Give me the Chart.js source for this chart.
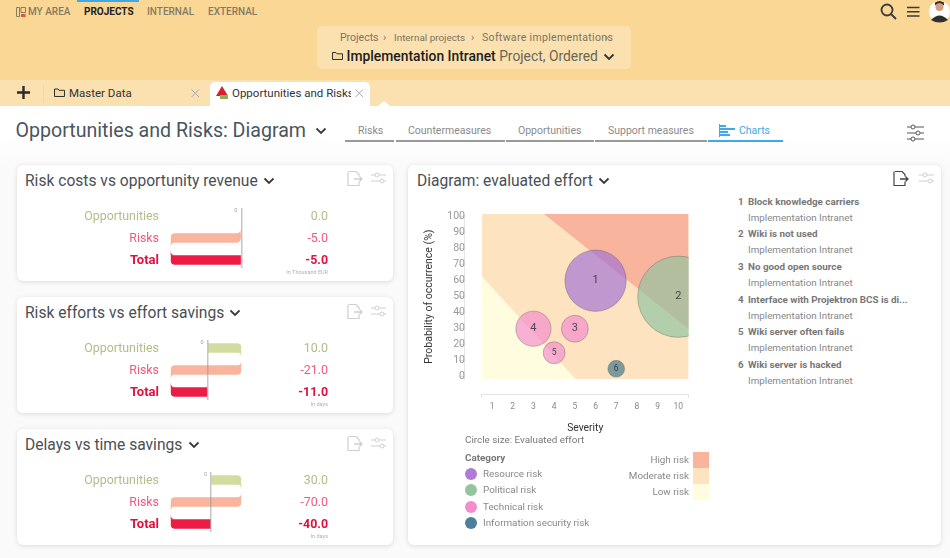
<!DOCTYPE html>
<html>
<head>
<meta charset="utf-8">
<title>Opportunities and Risks: Diagram</title>
<script src="https://cdn.jsdelivr.net/npm/chart.js@4"></script>
<style>
html, body { margin: 0; padding: 0; width: 950px; height: 558px; overflow: hidden; background: #fafafa; font-family: Roboto, sans-serif; }
.abs, .t { position: absolute; }
.t { white-space: nowrap; line-height: 1; }
.card { position: absolute; background: #fff; border-radius: 6px; box-shadow: 0 1px 5px rgba(0,0,0,.13); }
.chart { position: absolute; }
svg { position: absolute; overflow: visible; }
</style>
</head>
<body>
<div class="abs" style="left:0;top:0;width:950px;height:80px;background:#fad795"></div>
<div class="abs" style="left:0;top:80px;width:950px;height:26px;background:#fbe1b0"></div>
<div class="abs" style="left:0;top:106px;width:950px;height:60px;background:linear-gradient(#fff 30px,#fafafa)"></div>
<div class="abs" style="left:77px;top:0;width:62px;height:2px;background:#3fa9e8"></div>
<div class="abs" style="left:317px;top:26px;width:314px;height:43px;background:#fbe1b0;border-radius:5px"></div>
<div class="abs" style="left:43px;top:84px;width:1px;height:18px;background:#fad795"></div>
<div class="abs" style="left:210px;top:82px;width:160px;height:26px;background:#fff;border-radius:5px 5px 0 0"></div>
<svg style="left:378px;top:101px" width="12" height="5"><path d="M0 5l6-5 6 5z" fill="#fff"/></svg>

<svg style="left:16px;top:7px" width="10" height="11"><path d="M.5.5h3v9h-3zM5 .5h4.5v5h-4.500z" fill="none" stroke="#8a7a60"/><rect x="5" y="7" width="4.5" height="3" fill="#d65a3c"/></svg>
<div class="t" style="left:28px;top:7px;font-size:10px;font-weight:500;color:#857a62">MY AREA</div>
<div class="t" style="left:84px;top:7px;font-size:10px;font-weight:700;color:#222">PROJECTS</div>
<div class="t" style="left:147px;top:7px;font-size:10px;font-weight:500;color:#857a62">INTERNAL</div>
<div class="t" style="left:208px;top:7px;font-size:10px;font-weight:500;color:#857a62">EXTERNAL</div>

<div class="t" style="left:340px;top:33px;font-size:10.5px;color:#7d725e">Projects</div>
<div class="t" style="left:383px;top:33px;font-size:10.5px;color:#7d725e">›</div>
<div class="t" style="left:394px;top:33px;font-size:9.9px;color:#7d725e">Internal projects</div>
<div class="t" style="left:471px;top:33px;font-size:10.5px;color:#7d725e">›</div>
<div class="t" style="left:482px;top:33px;font-size:10.5px;letter-spacing:.33px;color:#7d725e">Software implementations</div>
<div class="t" style="left:605px;top:33px;font-size:10.5px;color:#7d725e">›</div>
<div class="t" style="left:346.5px;top:50px;font-size:13.85px;font-weight:500;color:#1c1c1c">Implementation Intranet <span style="font-weight:400;color:#6b6557">Project, Ordered</span></div>
<svg style="left:332px;top:51px" width="11" height="9"><path d="M.5 1.5h3.5l1 1.3h5.5v5.7h-10z" fill="#f4d9a6" stroke="#333"/></svg>
<svg style="left:603px;top:53px" width="12" height="8"><path d="M1.5 1.5l4.5 4.5 4.5-4.500" fill="none" stroke="#333" stroke-width="1.8"/></svg>

<svg style="left:880px;top:3px" width="18" height="18"><circle cx="7" cy="7" r="5.5" fill="none" stroke="#3a3a3a" stroke-width="1.8"/><path d="M11 11l5 5" stroke="#3a3a3a" stroke-width="2"/></svg>
<svg style="left:907px;top:6px" width="13" height="12"><path d="M0 1.5h12.5M0 5.7h12.5M0 10h12.5" stroke="#3a3a3a" stroke-width="1.5"/></svg>
<svg style="left:929px;top:0" width="21" height="23"><circle cx="10.5" cy="11.5" r="10.5" fill="#fff"/><circle cx="10.5" cy="7" r="4" fill="#d3a07e"/><path d="M6 5.5q4.5-5 9 0v-3q-4.500-3-9 0z" fill="#3a2f28"/><path d="M2 20q8.5-9 17 0q-8.500 5-17 0z" fill="#2f2f2f"/></svg>

<svg style="left:17px;top:86px" width="13" height="13"><path d="M6.5 0v13M0 6.5h13" stroke="#2a2a2a" stroke-width="2.4"/></svg>
<svg style="left:54px;top:88px" width="11" height="9"><path d="M.5 1h3.5l1 1.3h5.5v6.200h-10z" fill="#f4d9a6" stroke="#333"/></svg>
<div class="t" style="left:69px;top:88px;font-size:11.5px;color:#333">Master Data</div>
<svg style="left:191px;top:89px" width="9" height="9"><path d="M.5.5l7.5 7.5M8 .5l-7.500 7.500" stroke="#aaa" stroke-width="1"/></svg>
<svg style="left:216px;top:86px" width="13" height="13"><path d="M6 0l6 10h-12z" fill="#d6202e"/><rect x="4" y="9" width="8" height="4" fill="#8cae5f"/></svg>
<div class="t" style="left:232px;top:88px;font-size:11.5px;color:#333;width:119px;overflow:hidden">Opportunities and Risks</div>
<svg style="left:355px;top:89px" width="9" height="9"><path d="M.5.5l7.5 7.5M8 .5l-7.500 7.500" stroke="#aaa" stroke-width="1"/></svg>

<div class="t" style="left:15.5px;top:121px;font-size:19.6px;color:#4a5560">Opportunities and Risks: Diagram</div>
<svg style="left:315px;top:127px" width="12" height="8"><path d="M1.5 1.5l4.5 4.5 4.5-4.500" fill="none" stroke="#3a3a3a" stroke-width="1.8"/></svg>
<div class="t" style="left:358px;top:126px;font-size:10.5px;color:#8a8a8a">Risks</div>
<div class="t" style="left:408px;top:126px;font-size:10.5px;color:#8a8a8a">Countermeasures</div>
<div class="t" style="left:518px;top:126px;font-size:10.5px;color:#8a8a8a">Opportunities</div>
<div class="t" style="left:608px;top:126px;font-size:10.5px;color:#8a8a8a">Support measures</div>
<div class="t" style="left:739px;top:126px;font-size:10.5px;color:#3fa9e8">Charts</div>
<svg style="left:719px;top:124px" width="16" height="13"><path d="M.5 0v13" stroke="#3fa9e8"/><path d="M1 2h6M1 5h15M1 8h8M1 11h10" stroke="#3fa9e8" stroke-width="2"/></svg>
<div class="abs" style="left:345px;top:140px;width:49px;height:2px;background:#999"></div>
<div class="abs" style="left:396px;top:140px;width:109px;height:2px;background:#999"></div>
<div class="abs" style="left:506px;top:140px;width:88px;height:2px;background:#999"></div>
<div class="abs" style="left:595px;top:140px;width:112px;height:2px;background:#999"></div>
<div class="abs" style="left:708px;top:140px;width:75px;height:2px;background:#3fa9e8"></div>
<svg style="left:907px;top:124px" width="17" height="17"><g fill="none" stroke="#555"><path d="M0 3h4M8 3h9M0 9h9M13 9h4M0 15h4M8 15h9"/><circle cx="6" cy="3" r="2"/><circle cx="11" cy="9" r="2"/><circle cx="6" cy="15" r="2"/></g></svg>

<div class="card" style="left:17px;top:165px;width:376px;height:116px"></div>
<div class="card" style="left:17px;top:297px;width:376px;height:116px"></div>
<div class="card" style="left:17px;top:429px;width:376px;height:116px"></div>
<div class="card" style="left:408px;top:165px;width:533px;height:380px"></div>

<div class="t" style="left:25px;top:174px;font-size:15.6px;color:#4a4f55">Risk costs vs opportunity revenue</div>
<svg style="left:263px;top:177px" width="12" height="8"><path d="M1.5 1.5l4.5 4.5 4.5-4.500" fill="none" stroke="#3a3a3a" stroke-width="1.8"/></svg>
<div class="t" style="left:25px;top:306px;font-size:15.6px;color:#4a4f55">Risk efforts vs effort savings</div>
<svg style="left:229px;top:309px" width="12" height="8"><path d="M1.5 1.5l4.5 4.5 4.5-4.500" fill="none" stroke="#3a3a3a" stroke-width="1.8"/></svg>
<div class="t" style="left:25px;top:438px;font-size:15.6px;color:#4a4f55">Delays vs time savings</div>
<svg style="left:188px;top:441px" width="12" height="8"><path d="M1.5 1.5l4.5 4.5 4.5-4.500" fill="none" stroke="#3a3a3a" stroke-width="1.8"/></svg>
<div class="t" style="left:417px;top:174px;font-size:15.6px;color:#4a4f55">Diagram: evaluated effort</div>
<svg style="left:598px;top:177px" width="12" height="8"><path d="M1.5 1.5l4.5 4.5 4.5-4.500" fill="none" stroke="#3a3a3a" stroke-width="1.8"/></svg>

<div id="cardIcons"></div>

<canvas class="chart" id="waterfall0" style="left:17px;top:203px;width:376px;height:78px"></canvas>
<canvas class="chart" id="waterfall1" style="left:17px;top:335px;width:376px;height:78px"></canvas>
<canvas class="chart" id="waterfall2" style="left:17px;top:467px;width:376px;height:78px"></canvas>
<canvas class="chart" id="bubbleChart" style="left:410px;top:200px;width:300px;height:240px"></canvas>

<div class="t" style="left:465px;top:434.5px;font-size:9.85px;color:#777">Circle size: Evaluated effort</div>
<div class="t" style="left:465px;top:452.5px;font-size:9.85px;font-weight:700;color:#777">Category</div>
<div id="catLegend"></div>
<div id="zoneLegend"></div>
<div id="riskList"></div>

<script>
const rowLabels = ["Opportunities", "Risks", "Total"];
const costValues = [0.0, -5.0, -5.0];
const effortValues = [10.0, -21.0, -11.0];
const delayValues = [30.0, -70.0, -40.0];
const unitLabels = ["In Thousand EUR", "In days", "In days"];

const severity = [6, 10, 5, 3, 4, 7];
const probability = [60, 50, 30, 30, 15, 5];
const evaluatedEffort = [94, 165, 18, 31, 12, 7];
const riskCategory = [0, 1, 2, 2, 2, 3];
const riskNames = ["Block knowledge carriers", "Wiki is not used", "No good open source", "Interface with Projektron BCS is di...", "Wiki server often fails", "Wiki server is hacked"];
const projectName = "Implementation Intranet";

const categoryNames = ["Resource risk", "Political risk", "Technical risk", "Information security risk"];
const categoryColors = ["#ae7bd8", "#94c4a0", "#f58ccb", "#4c7f9a"];
const zoneNames = ["High risk", "Moderate risk", "Low risk"];
const zoneColors = ["#f8b49c", "#fde3c0", "#fffce0"];
const highZone = [{x: 3.51, y: 101.7}, {x: 10.5, y: 29.8}];
const moderateZone = [{x: 0.5, y: 101.7}, {x: 10.5, y: 101.7}];
const lowZone = [{x: 0.5, y: 63}, {x: 5.05, y: -1.6}];
const severityTicks = [0.5, 1, 2, 3, 4, 5, 6, 7, 8, 9, 10, 10.5];
const probabilityTicks = [0, 10, 20, 30, 40, 50, 60, 70, 80, 90, 100];

const FONT = "Roboto, sans-serif";
Chart.defaults.font.family = FONT;
Chart.defaults.animation = false;
Chart.defaults.plugins.legend.display = false;
Chart.defaults.plugins.tooltip.enabled = false;

// card icons, same on every card
const exportIcon = (x, y, c) => `<svg style="left:${x}px;top:${y}px" width="16" height="15"><path d="M2 .5h7l3 3v2M12 10.5v4h-11v-14" fill="none" stroke="${c}" stroke-width="1.2"/><path d="M7 8h8M12.5 5.5l2.5 2.5-2.5 2.5" fill="none" stroke="${c}" stroke-width="1.3"/></svg>`;
const slidersIcon = (x, y, c) => `<svg style="left:${x}px;top:${y}px" width="15" height="13"><g fill="none" stroke="${c}"><path d="M0 3h4M8 3h7M0 9h9M13 9h2"/><circle cx="6" cy="3" r="2"/><circle cx="11" cy="9" r="2"/></g></svg>`;
document.getElementById("cardIcons").innerHTML = [171, 304, 436].map((y) => exportIcon(347, y, "#cfcfcf") + slidersIcon(371, y + 1, "#cfcfcf")).join("") + exportIcon(893, 171, "#444") + slidersIcon(919, 172, "#cfcfcf");

// waterfall: each row floats from the running total, the total row closes back on zero
function waterfallRanges(values) {
    const opening = values[0];
    const closing = values[2];
    return [[0, opening], [closing, opening], [closing, 0]].map((x, y) => ({ x, y }));
}

const rowColors = ["#d3dc9f", "#f8b49c", "#ec1c45"];
const rowText = ["#b5bb8a", "#ee5b7c", "#e0103f"];

// small curved hook at a bar end, the look of the original connector
function drawHook(ctx, x, y, dirX, dirY, color) {
    ctx.fillStyle = color;
    ctx.beginPath();
    ctx.moveTo(x, y);
    ctx.lineTo(x, y + dirY * 5);
    ctx.quadraticCurveTo(x, y, x + dirX * 5, y);
    ctx.closePath();
    ctx.fill();
}

const waterfallLabels = {
    id: "waterfallLabels",
    afterDatasetsDraw(chart) {
        const { ctx } = chart;
        const [top, mid, total] = chart.getDatasetMeta(0).data;
        const half = 4.5;
        ctx.save();
        if (Math.abs(top.x - top.base) > 1) drawHook(ctx, Math.max(top.x, top.base), top.y + half, -1, 1, rowColors[0]);
        drawHook(ctx, Math.max(mid.x, mid.base), mid.y - half, -1, -1, rowColors[1]);
        drawHook(ctx, Math.min(mid.x, mid.base), mid.y + half, 1, 1, rowColors[1]);
        drawHook(ctx, Math.min(total.x, total.base), total.y - half, 1, -1, rowColors[2]);
        ctx.restore();
    },
    afterDraw(chart, args, opts) {
        const { ctx } = chart;
        const bars = chart.getDatasetMeta(0).data;
        ctx.save();
        ctx.textBaseline = "middle";
        bars.forEach((bar, i) => {
            const bold = i === 2;
            ctx.fillStyle = rowText[i];
            ctx.textAlign = "right";
            ctx.font = (bold ? "700 13px " : "12.4px ") + FONT;
            ctx.fillText(rowLabels[i], 142, bar.y + 1);
            ctx.font = (bold ? "700 12.4px " : "12.4px ") + FONT;
            ctx.fillText(opts.values[i].toFixed(1), 311, bar.y + 1);
        });
        ctx.fillStyle = "#b0b0b0";
        ctx.font = "5.5px " + FONT;
        ctx.fillText(opts.unit, 311, 69.5);
        ctx.fillStyle = "#a0a0a0";
        ctx.fillText("0", chart.scales.x.getPixelForValue(0) - 4, 8);
        ctx.restore();
    },
};

function makeWaterfall(id, values, unit, spread) {
    new Chart(document.getElementById(id), {
        type: "bar",
        plugins: [waterfallLabels],
        data: {
            datasets: [{
                data: waterfallRanges(values),
                backgroundColor: rowColors,
                borderSkipped: false,
                borderRadius: [
                    { topLeft: 0, topRight: 5, bottomLeft: 0, bottomRight: 0 },
                    { topLeft: 5, topRight: 0, bottomLeft: 0, bottomRight: 5 },
                    { topLeft: 0, topRight: 0, bottomLeft: 5, bottomRight: 0 },
                ],
                barThickness: 9,
            }],
        },
        options: {
            indexAxis: "y",
            responsive: false,
            maintainAspectRatio: false,
            layout: { autoPadding: false, padding: { left: 153.7, right: 151.7, top: 5, bottom: 13 } },
            plugins: { waterfallLabels: { values, unit } },
            scales: {
                y: { type: "linear", display: false, reverse: true, offset: false, min: -0.364, max: 2.364 },
                x: {
                    min: spread[0],
                    max: spread[1],
                    afterBuildTicks: (scale) => { scale.ticks = [{ value: 0 }]; },
                    border: { display: false },
                    grid: { color: "rgba(150,150,150,.55)", drawTicks: false, lineWidth: 1.5, z: 1 },
                    ticks: { display: false },
                },
            },
        },
    });
}

makeWaterfall("waterfall0", costValues, unitLabels[0], [-5, 0]);
makeWaterfall("waterfall1", effortValues, unitLabels[1], [-11, 10]);
makeWaterfall("waterfall2", delayValues, unitLabels[2], [-40, 30]);

// numbers inside the bubbles, and the y title: a title on a free-floating axis only reads downwards
const bubbleNumbers = {
    id: "bubbleNumbers",
    afterDatasetsDraw(chart) {
        const { ctx } = chart;
        const meta = chart.getDatasetMeta(0);
        ctx.save();
        ctx.textAlign = "center";
        ctx.textBaseline = "middle";
        ctx.fillStyle = "rgba(40,40,60,.8)";
        meta.data.forEach((pt, i) => {
            ctx.font = (i > 3 ? "8.5px " : "11px ") + FONT;
            ctx.fillText(String(i + 1), pt.x, pt.y);
        });
        ctx.restore();
    },
    afterDraw(chart) {
        const { ctx, scales } = chart;
        ctx.save();
        ctx.translate(19, (scales.y.top + scales.y.bottom) / 2);
        ctx.rotate(-Math.PI / 2);
        ctx.textAlign = "center";
        ctx.textBaseline = "middle";
        ctx.fillStyle = "#333";
        ctx.font = "10.5px " + FONT;
        ctx.fillText("Probability of occurrence (%)", 0, 0);
        ctx.restore();
    },
};

const bubbleFill = ["rgba(160,110,215,.65)", "rgba(140,195,160,.65)", "rgba(245,135,205,.65)", "rgba(55,115,140,.65)"];

new Chart(document.getElementById("bubbleChart"), {
    data: {
        datasets: [
            {
                type: "bubble",
                order: 0,
                data: severity.map((s, i) => ({ x: s, y: probability[i], r: Math.sqrt(evaluatedEffort[i] * 10) })),
                backgroundColor: riskCategory.map((c) => bubbleFill[c]),
                borderColor: "rgba(90,90,90,.35)",
                borderWidth: 1,
            },
            { type: "scatter", order: 1, data: highZone, showLine: true, fill: "end", backgroundColor: zoneColors[0], borderWidth: 0, pointRadius: 0 },
            { type: "scatter", order: 2, data: lowZone, showLine: true, fill: "start", backgroundColor: zoneColors[2], borderWidth: 0, pointRadius: 0 },
            { type: "scatter", order: 3, data: moderateZone, showLine: true, fill: "start", backgroundColor: zoneColors[1], borderWidth: 0, pointRadius: 0 },
        ],
    },
    plugins: [bubbleNumbers],
    options: {
        responsive: false,
        maintainAspectRatio: false,
        layout: { autoPadding: false, padding: { left: 71.7, right: 21.3, top: 14, bottom: 60.7 } },
        scales: {
            x: {
                type: "linear",
                min: 0.5,
                max: 10.5,
                position: { y: -11 },
                afterBuildTicks: (scale) => { scale.ticks = severityTicks.map((value) => ({ value })); },
                border: { display: true, color: "#e4e4e4" },
                grid: {
                    drawOnChartArea: false,
                    tickLength: 3,
                    color: (ctx) => (ctx.tick && Number.isInteger(ctx.tick.value) ? "rgba(0,0,0,0)" : "#e4e4e4"),
                },
                ticks: {
                    color: "#888",
                    font: { size: 8.5 },
                    padding: 4,
                    autoSkip: false,
                    maxRotation: 0,
                    callback: (value) => (Number.isInteger(value) ? value : ""),
                },
                title: { display: true, text: "Severity", color: "#333", font: { size: 10.3 }, padding: { top: 7 } },
            },
            y: {
                min: -1.6,
                max: 101.7,
                position: { x: -0.307 },
                afterBuildTicks: (scale) => { scale.ticks = probabilityTicks.map((value) => ({ value })); },
                border: { display: true, color: "#e4e4e4" },
                grid: { drawOnChartArea: false, tickLength: 5, color: "#e4e4e4" },
                ticks: { color: "#999", font: { size: 10.5 }, padding: 2, autoSkip: false },
            },
        },
    },
});

document.getElementById("catLegend").innerHTML = categoryNames.map((name, i) =>
    `<div class="abs" style="left:465px;top:${468 + i * 16.3}px;width:12px;height:12px;border-radius:50%;background:${categoryColors[i]}"></div>` +
    `<div class="t" style="left:483px;top:${469 + i * 16.3}px;font-size:9.85px;color:#888">${name}</div>`).join("");

document.getElementById("zoneLegend").innerHTML = zoneNames.map((name, i) =>
    `<div class="abs" style="left:693px;top:${452 + i * 16}px;width:16px;height:16px;background:${zoneColors[i]}"></div>` +
    `<div class="t" style="right:261px;top:${454.5 + i * 16.3}px;font-size:9.85px;color:#888">${name}</div>`).join("");

document.getElementById("riskList").innerHTML = riskNames.map((name, i) =>
    `<div class="t" style="left:738px;top:${196.6 + i * 32.7}px;font-size:9.8px;font-weight:700;color:#777">${i + 1}</div>` +
    `<div class="t" style="left:748px;top:${196.6 + i * 32.7}px;font-size:9.8px;font-weight:700;color:#777">${name}</div>` +
    `<div class="t" style="left:748px;top:${212.6 + i * 32.7}px;font-size:9.8px;color:#888">${projectName}</div>`).join("");
</script>
</body>
</html>
